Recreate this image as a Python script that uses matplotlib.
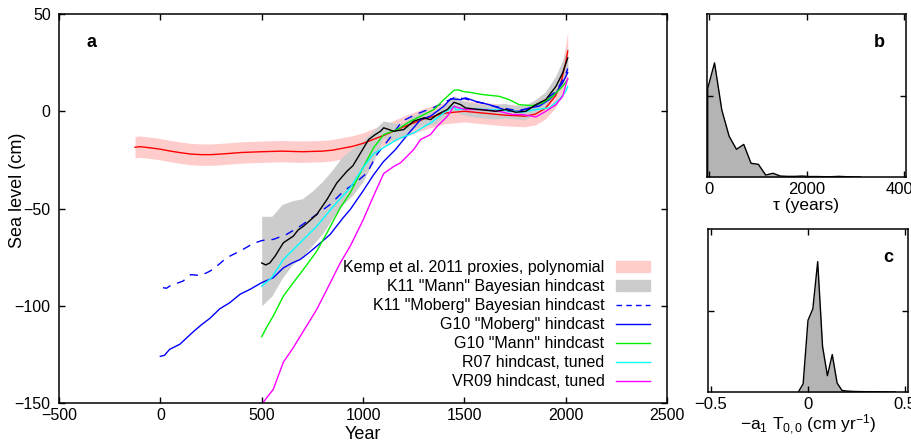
import numpy as np
import matplotlib
matplotlib.use("Agg")
import matplotlib.pyplot as plt
from matplotlib.patches import Patch
from matplotlib.lines import Line2D

plt.rcParams['font.family'] = ['Liberation Sans', 'DejaVu Sans']
plt.rcParams['mathtext.fontset'] = 'custom'
plt.rcParams['mathtext.rm'] = 'Liberation Sans'
plt.rcParams['mathtext.it'] = 'Liberation Sans'

# Kemp et al. 2011 proxies (polynomial) with error band
kemp_yr = [-125, -100, -50, 0, 50, 100, 150, 200, 250, 300, 400, 500, 600, 700, 800, 850,
           900, 950, 1000, 1050, 1100, 1200, 1300, 1400, 1500, 1600, 1700, 1800, 1850, 1900,
           1950, 1975, 2000, 2010]
kemp_sl = [-18.5, -18.2, -18.8, -19.5, -20.5, -21.3, -22, -22.3, -22.3, -22, -21.2, -20.8,
           -20.5, -20.8, -20.5, -20, -19, -18, -16.5, -14.5, -12.5, -8, -4, -1, 0, -1, -2,
           -2.5, -1.5, 1.5, 8, 14, 25, 31]
kemp_err = [5.5] * 30 + [6, 7, 9, 10]

# K11 "Mann" Bayesian hindcast: band and median
k11m_band_yr = [500, 550, 600, 650, 700, 750, 800, 850, 900, 950, 1000, 1050, 1100, 1150,
                1200, 1250, 1300, 1350, 1400, 1450, 1500, 1550, 1600, 1650, 1700, 1750,
                1800, 1850, 1900, 1950, 1980, 2010]
k11m_hi = [-54, -54, -48, -46, -45, -41, -36, -30, -23, -19, -15, -10, -5, -6, -6, -2, 0, 0,
           4, 8, 5, 4, 3.5, 3.5, 4, 3, 3, 6, 10, 18, 25, 33]
k11m_lo = [-100, -95, -86, -79, -75, -69, -63, -55, -48, -43, -36, -26, -14, -15, -13, -9,
           -7, -7, -3, 0, -2, -3, -3.5, -4, -3.5, -4, -4.5, -1, 2, 8, 14, 22]
k11m_yr = [500, 520, 540, 566, 607, 630, 656, 680, 706, 740, 772, 822, 871, 921, 950, 1003,
           1028, 1060, 1086, 1102, 1130, 1151, 1201, 1250, 1300, 1333, 1366, 1416, 1449,
           1482, 1506, 1572, 1655, 1705, 1754, 1804, 1853, 1902, 1952, 1985, 2010]
k11m_sl = [-78, -79, -78, -74.5, -67.6, -66, -64.2, -61, -59.1, -56, -53, -45.4, -36.8,
           -30.8, -28, -18.8, -14.5, -12, -10.3, -8.5, -9.5, -10.3, -9.4, -5.1, -3.4, -4.3,
           -1.7, 0.9, 4.6, 3.4, 1.7, 0.9, 0, 0.9, -0.5, 0, 3.4, 6, 12.8, 19.7, 27.4]

# K11 "Moberg" Bayesian hindcast
k11mob_yr = [13, 30, 46, 80, 112, 150, 195, 230, 260, 327, 393, 458, 500, 530, 557, 623, 690,
             772, 838, 904, 960, 1020, 1070, 1127, 1193, 1259, 1300, 1350, 1400, 1450, 1500,
             1550, 1600, 1650, 1700, 1750, 1800, 1850, 1900, 1950, 1980, 2000, 2010]
k11mob_sl = [-90.7, -91, -89.9, -88.5, -87.3, -84, -84.4, -83, -81.3, -75.3, -71.9, -68,
             -66.5, -66, -65.9, -63.3, -59.1, -53, -47.9, -41.1, -37, -31.7, -22, -14.5,
             -5.1, -1.7, 0, 2, 4.5, 7, 6.5, 5, 4, 2.5, 1.5, 0.5, 1, 2.5, 6, 10, 15, 19, 22]

# G10 "Moberg" hindcast
g10mob_yr = [0, 20, 46, 96, 130, 161, 200, 244, 294, 343, 393, 442, 500, 557, 607, 650, 690,
             730, 772, 838, 900, 937, 1000, 1050, 1100, 1160, 1220, 1284, 1333, 1399, 1432,
             1482, 1506, 1556, 1622, 1671, 1721, 1770, 1820, 1869, 1919, 1952, 1985, 2001,
             2010]
g10mob_sl = [-126, -125.5, -122.4, -119.8, -116.5, -113.5, -110, -106.5, -101.5, -98.4,
             -94.1, -91.6, -88.1, -85.6, -80.5, -78, -76.2, -73, -69.3, -63.3, -55, -50.5,
             -41, -33, -26, -19.7, -12, -4.3, -2.5, 2.6, 6.4, 6, 6.9, 5.1, 3.4, 1.7, 0, 0,
             1.7, 2.6, 6, 9.4, 14.6, 18, 20]

# G10 "Mann" hindcast
g10mann_yr = [500, 530, 557, 607, 656, 706, 772, 822, 888, 937, 1000, 1052, 1102, 1168, 1234,
              1300, 1350, 1399, 1449, 1470, 1500, 1523, 1589, 1671, 1721, 1770, 1836, 1886,
              1935, 1985, 2010]
g10mann_sl = [-115.9, -110, -105.3, -95, -88.1, -81.3, -71.9, -62.5, -49.6, -41.9, -29,
              -18.8, -12, -9.4, -5.1, -1.7, 0.9, 6, 10.8, 11, 10, 9.8, 8.6, 7.7, 6, 3.4, 2.9,
              4.3, 7.7, 12.8, 16.3]

# R07 hindcast, tuned
r07_yr = [500, 549, 607, 690, 772, 854, 937, 1000, 1050, 1086, 1168, 1250, 1333, 1399, 1449,
          1457, 1539, 1622, 1705, 1787, 1853, 1919, 1968, 2001, 2010]
r07_sl = [-89.9, -85.6, -76.2, -67.6, -59.1, -48.8, -39.3, -29, -22, -19.7, -14.5, -11.1, -6,
          -0.8, 2.6, 0.9, 1.2, 0.9, 0.4, -0.5, 0.9, 1.7, 6, 10.3, 12.8]

# VR09 hindcast, tuned
vr09_yr = [505, 557, 607, 656, 706, 772, 822, 888, 937, 1000, 1050, 1102, 1150, 1185, 1250,
           1284, 1333, 1366, 1416, 1449, 1465, 1506, 1589, 1671, 1737, 1787, 1853, 1902, 1952,
           1985, 2010]
vr09_sl = [-150, -143, -129, -121.5, -113, -101.8, -91.6, -77.9, -69.3, -56, -44, -32, -28.5,
           -26.5, -19.7, -14.5, -12, -7.7, -2.6, 2.6, 2, 0.9, 0.9, 0, -1.7, -1.7, -2.9, 0,
           3.4, 7.7, 17]

# panel b: distribution of tau
tau_yr = [-30, 110, 260, 410, 560, 710, 860, 1010, 1160, 1310, 1460, 1610, 1760, 1910, 2060,
          2210, 2360, 2510, 2660, 2810, 2960, 3110]
tau_pdf = [0.544, 0.70, 0.41, 0.25, 0.17, 0.20, 0.084, 0.078, 0.012, 0.023, 0.006, 0.004,
           0.004, 0.006, 0.003, 0.003, 0.002, 0.002, 0.004, 0.002, 0.001, 0.0]

# panel c: distribution of -a1 T0,0
a1t_x = [-0.05, -0.025, 0, 0.025, 0.05, 0.075, 0.1, 0.125, 0.15, 0.175, 0.2, 0.225, 0.25,
         0.3, 0.35, 0.4, 0.45]
a1t_pdf = [0, 0.05, 0.44, 0.51, 0.80, 0.28, 0.10, 0.23, 0.055, 0.01, 0.006, 0.004, 0.003,
           0.002, 0.002, 0.001, 0]

fig = plt.figure(figsize=(9.12, 4.42), dpi=100)

def style(ax, size):
    ax.tick_params(direction='in', top=True, right=True, length=4, width=1, labelsize=size)
    for s in ax.spines.values():
        s.set_linewidth(1.1)

# ---- panel a
ax = fig.add_axes([0.0647, 0.0882, 0.6667, 0.8801])
kl = np.array(kemp_sl); ke = np.array(kemp_err)
ax.fill_between(kemp_yr, kl - ke, kl + ke, color='#ffcccc', lw=0)
ax.fill_between(k11m_band_yr, k11m_lo, k11m_hi, color='#cccccc', lw=0)
ax.plot(kemp_yr, kemp_sl, color='#ff0000', lw=1)
ax.plot(k11mob_yr, k11mob_sl, color='#0000ff', lw=1, ls=(0, (6, 5)))
ax.plot(g10mob_yr, g10mob_sl, color='#0000ff', lw=1)
ax.plot(g10mann_yr, g10mann_sl, color='#00ee00', lw=1)
ax.plot(r07_yr, r07_sl, color='#00ffff', lw=1)
ax.plot(vr09_yr, vr09_sl, color='#ff00ff', lw=1)
ax.plot(k11m_yr, k11m_sl, color='black', lw=1)
ax.set_xlim(-500, 2500)
ax.set_ylim(-150, 50)
ax.set_xticks(np.arange(-500, 2501, 500))
ax.set_yticks(np.arange(-150, 51, 50))
style(ax, 11.5)
ax.tick_params(axis='y', pad=6)
ax.set_xlabel('Year', fontsize=13, labelpad=2)
ax.set_ylabel('Sea level (cm)', fontsize=13)
ax.yaxis.set_label_coords(-0.054, 0.548)
ax.text(0.054, 0.928, 'a', transform=ax.transAxes, fontsize=13, fontweight='bold',
        ha='center', va='center')

handles = [Patch(color='#ffcccc'), Patch(color='#cccccc'),
           Line2D([], [], color='#0000ff', lw=1, ls=(0, (4, 3))),
           Line2D([], [], color='#0000ff', lw=1), Line2D([], [], color='#00ee00', lw=1),
           Line2D([], [], color='#00ffff', lw=1), Line2D([], [], color='#ff00ff', lw=1)]
labels = ['Kemp et al. 2011 proxies, polynomial', 'K11 "Mann" Bayesian hindcast',
          'K11 "Moberg" Bayesian hindcast', 'G10 "Moberg" hindcast', 'G10 "Mann" hindcast',
          'R07 hindcast, tuned', 'VR09 hindcast, tuned']
ax.legend(handles, labels, loc='upper right', bbox_to_anchor=(0.972, 0.367), frameon=False,
          markerfirst=False, fontsize=11.5, handlelength=2.1, handletextpad=0.75,
          labelspacing=0.25, borderpad=0, borderaxespad=0)

# ---- panel b
axb = fig.add_axes([0.7752, 0.5995, 0.2182, 0.3688])
axb.fill_between(tau_yr, 0, tau_pdf, color='#b4b4b4', lw=0)
axb.plot([tau_yr[0]] + tau_yr, [0] + tau_pdf, color='black', lw=1)
axb.set_xlim(-45, 4040)
axb.set_ylim(0, 1)
axb.set_xticks([0, 2000, 4000])
axb.set_yticks([0.5])
axb.set_yticklabels([])
style(axb, 12)
axb.set_xlabel('τ (years)', fontsize=12.5, labelpad=1)
axb.text(0.864, 0.828, 'b', transform=axb.transAxes, fontsize=13, fontweight='bold',
         ha='center', va='center')

# ---- panel c
axc = fig.add_axes([0.7763, 0.1131, 0.2193, 0.3688])
axc.fill_between(a1t_x, 0, a1t_pdf, color='#b4b4b4', lw=0)
axc.plot(a1t_x, a1t_pdf, color='black', lw=1)
axc.set_xlim(-0.515, 0.515)
axc.set_ylim(0, 1)
axc.set_xticks([-0.5, 0, 0.5])
axc.set_xticklabels(['\u22120.5', '0', '0.5'])
axc.set_yticks([0.5])
axc.set_yticklabels([])
style(axc, 12)
axc.set_xlabel(r'$-\mathrm{a}_1\ \mathrm{T}_{0,0}$ (cm yr$^{-1}$)', fontsize=12.5, labelpad=1)
axc.text(0.9, 0.828, 'c', transform=axc.transAxes, fontsize=13, fontweight='bold',
         ha='center', va='center')

fig.savefig('out.png', dpi=100)
